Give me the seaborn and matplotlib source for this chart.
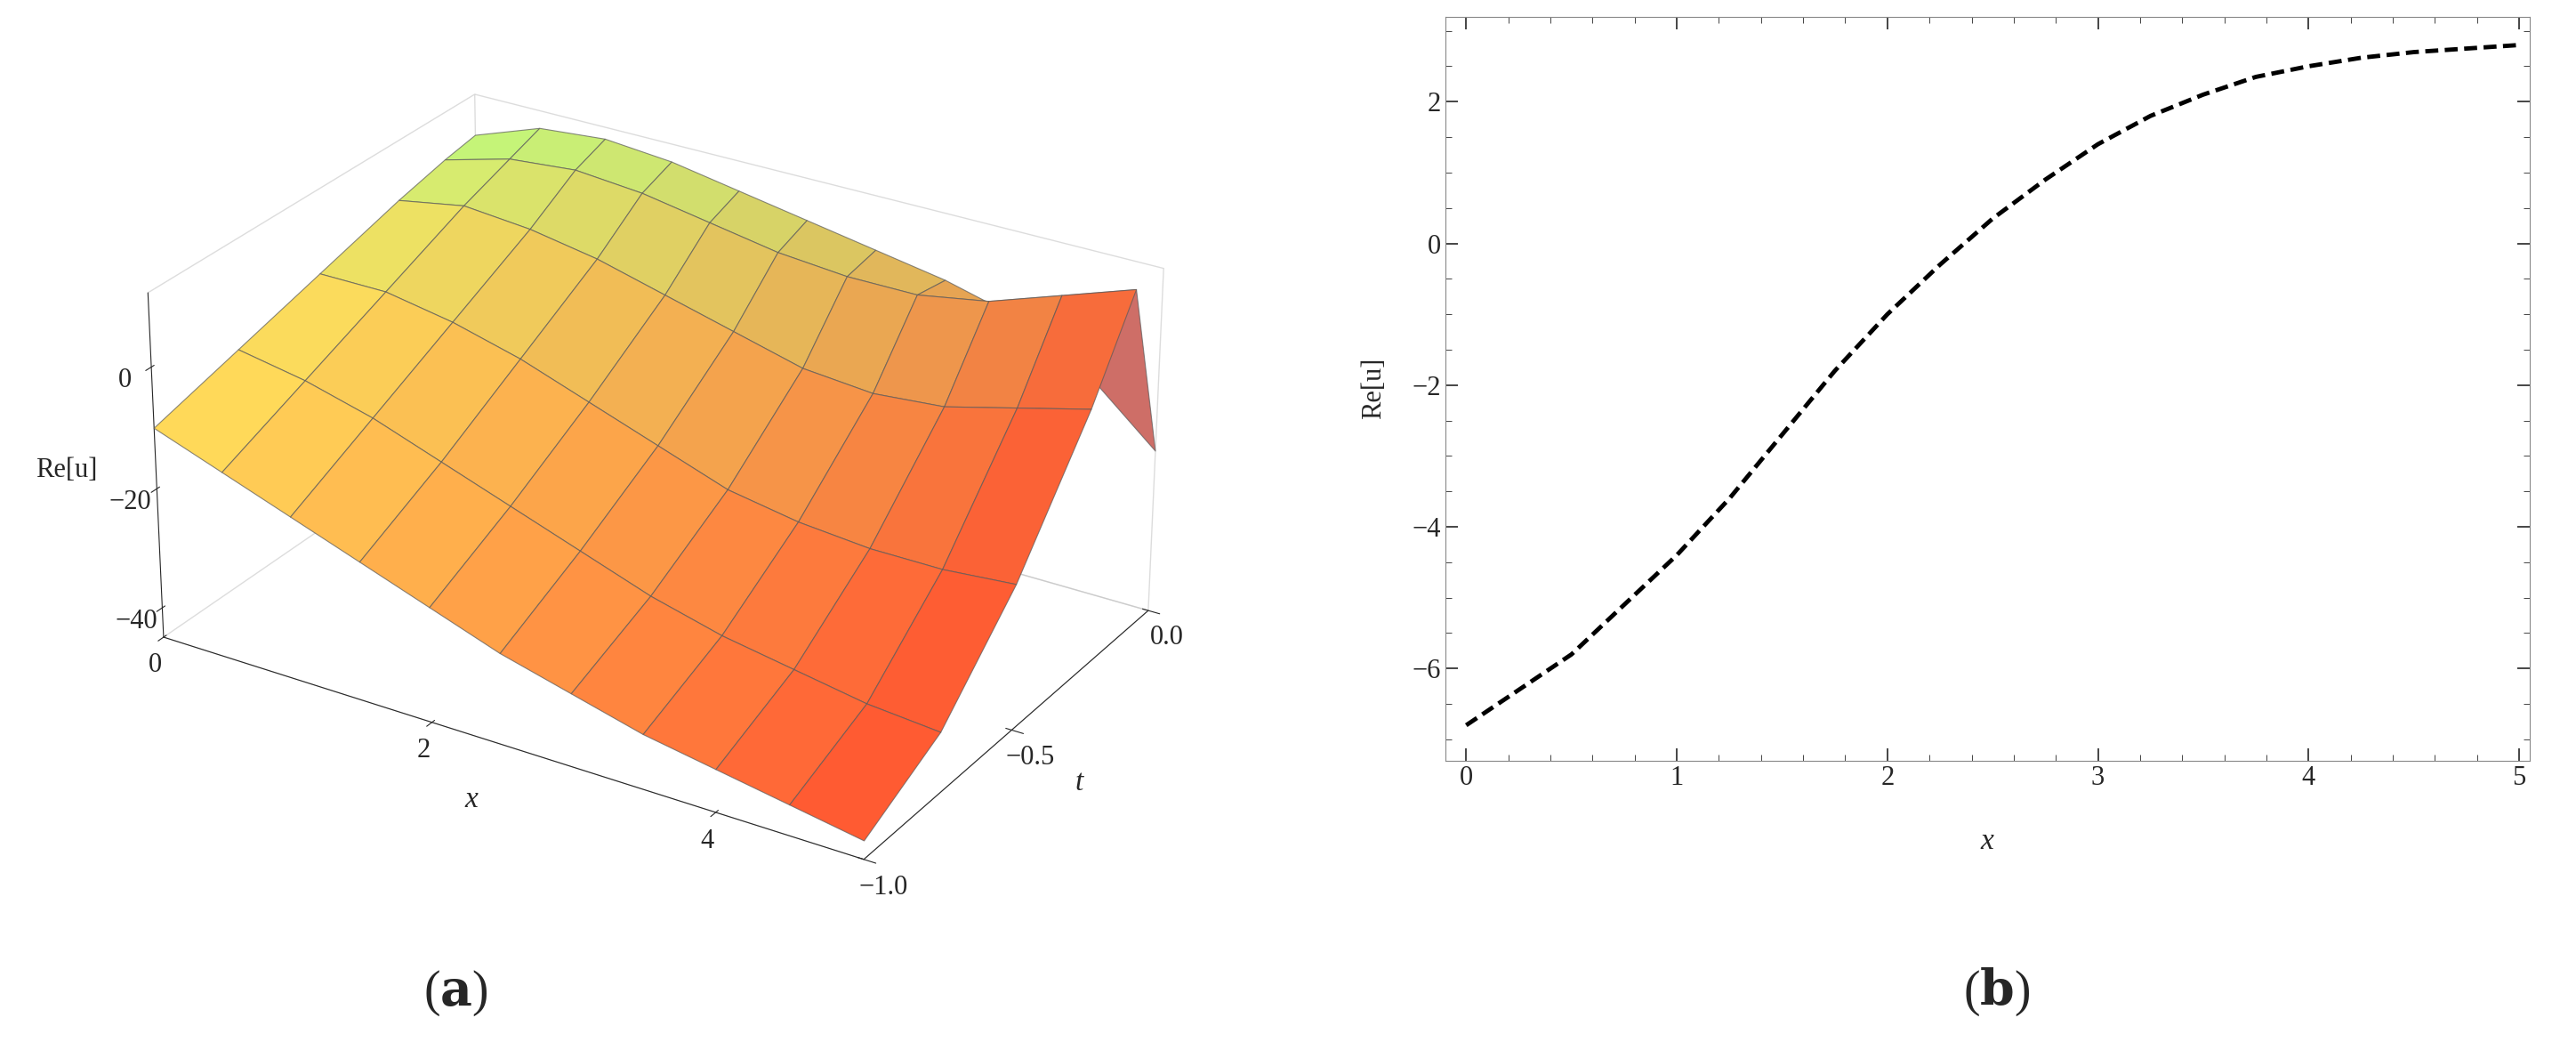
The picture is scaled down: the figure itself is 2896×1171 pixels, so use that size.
import numpy as np
import matplotlib
matplotlib.use("Agg")
import matplotlib.pyplot as plt
import seaborn as sns

sns.set_style("ticks")
plt.rcParams['font.family'] = ['Liberation Serif', 'DejaVu Serif']
plt.rcParams['mathtext.fontset'] = 'dejavuserif'

# surface (a): Re[u] on grid of x and t
x_grid = [0, 0.5, 1, 1.5, 2, 2.5, 3, 3.5, 4, 4.5, 5]
t_grid = [-1.0, -0.75, -0.5, -0.25, -0.1, 0.0]
re_u_surface = [
    [-10, -14, -18, -22, -26, -30, -33, -36, -38, -40, -42],
    [-6, -8, -11, -15, -19, -23, -27, -30, -32, -34, -35],
    [-2, -2, -4, -7, -11, -15, -19, -21, -22, -22, -21],
    [2, 4, 3, 1, -2, -5, -8, -9, -8, -5, -2],
    [4, 7, 8, 7, 5, 3, 2, 2, 4, 8, 12],
    [5, 9, 10, 9, 7, 5, 3, 1, -2, -8, -18],
]

# line (b)
x_line = [0, 0.25, 0.5, 0.75, 1, 1.25, 1.5, 1.75, 2, 2.25, 2.5, 2.75, 3,
          3.25, 3.5, 3.75, 4, 4.25, 4.5, 4.75, 5]
re_u_line = [-6.8, -6.3, -5.8, -5.1, -4.4, -3.6, -2.7, -1.8, -1.0, -0.3, 0.35,
             0.9, 1.4, 1.8, 2.1, 2.35, 2.5, 2.62, 2.7, 2.75, 2.8]

fig = plt.figure(figsize=(28.96, 11.71), dpi=100)

# ---- (a) 3D surface
ax3 = fig.add_axes([0.0, 0.05, 0.5, 1.0], projection='3d')
X, T = np.meshgrid(x_grid, t_grid)
Z = np.array(re_u_surface, dtype=float)
xs = X / 5.0
ts = (T + 1.0)
yellow = np.array([1.0, 0.85, 0.35])
red = np.array([1.0, 0.30, 0.18])
green = np.array([0.72, 0.98, 0.50])
blue = np.array([0.30, 0.35, 0.95])
cols = (1 - xs)[..., None] * yellow + xs[..., None] * red
gmix = (ts ** 2 * (1 - xs) ** 0.7)[..., None]
cols = cols * (1 - gmix) + green * gmix
bmix = (np.clip((ts - 0.85) / 0.15, 0, 1) * np.clip((xs - 0.7) / 0.3, 0, 1))[..., None]
cols = cols * (1 - bmix) + blue * bmix
fc = np.concatenate([np.clip(cols, 0, 1), np.ones(cols.shape[:2] + (1,))], axis=-1)
ax3.plot_surface(X, T, Z, facecolors=fc, edgecolor=(0.35, 0.35, 0.35, 0.7),
                 linewidth=0.8, shade=False, antialiased=True)
ax3.set_xlim(0, 5)
ax3.set_ylim(-1, 0)
ax3.set_zlim(-45, 12)
ax3.view_init(elev=27, azim=-58)
ax3.set_box_aspect((1.7, 1.2, 0.8))
ax3.set_xticks([0, 2, 4])
ax3.set_yticks([-1.0, -0.5, 0.0])
ax3.set_yticklabels(['\u22121.0', '\u22120.5', '0.0'])
ax3.set_zticks([-40, -20, 0])
ax3.set_zticklabels(['\u221240', '\u221220', '0'])
try:
    ax3.zaxis.set_ticks_position('lower')
    ax3.zaxis.set_label_position('lower')
except Exception:
    pass
ax3.zaxis.set_rotate_label(False)
ax3.tick_params(labelsize=22)
ax3.set_xlabel('x', fontsize=24, fontstyle='italic', labelpad=20)
ax3.set_ylabel('t', fontsize=24, fontstyle='italic', labelpad=20)
ax3.set_zlabel('Re[u]', fontsize=22, labelpad=18, rotation=0)
for a in (ax3.xaxis, ax3.yaxis, ax3.zaxis):
    a.pane.fill = False
    a.pane.set_edgecolor('#bbbbbb')
ax3.grid(False)

# ---- (b) line plot
ax = fig.add_axes([0.561, 0.27, 0.421, 0.714])
sns.lineplot(x=x_line, y=re_u_line, ax=ax, color='black', linewidth=3.5)
ax.lines[0].set_dashes([3, 1.5])
ax.set_xlim(-0.1, 5.05)
ax.set_ylim(-7.3, 3.2)
ax.set_xticks([0, 1, 2, 3, 4, 5])
ax.set_yticks([-6, -4, -2, 0, 2])
ax.set_yticklabels(['\u22126', '\u22124', '\u22122', '0', '2'])
ax.set_xticks(np.arange(0, 5.01, 0.2), minor=True)
ax.set_yticks(np.arange(-7, 3.01, 0.5), minor=True)
ax.tick_params(labelsize=22, direction='in', length=10, width=1.2)
ax.tick_params(which='minor', direction='in', length=5)
ax.tick_params(top=True, right=True, which='both')
ax.set_xlabel('x', fontsize=24, fontstyle='italic', labelpad=30)
ax.set_ylabel('Re[u]', fontsize=22, labelpad=20)
for s in ax.spines.values():
    s.set_color('#888888')

fig.text(0.177, 0.035, r'($\mathbf{a}$)', fontsize=40, ha='center')
fig.text(0.775, 0.035, r'($\mathbf{b}$)', fontsize=40, ha='center')

fig.savefig('out.png', dpi=100)
